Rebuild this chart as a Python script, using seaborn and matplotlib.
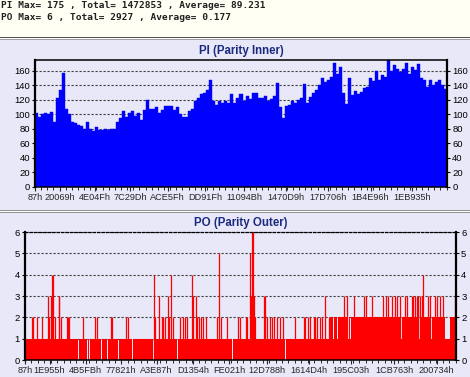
import numpy as np
import matplotlib
matplotlib.use("Agg")
import matplotlib.pyplot as plt
from matplotlib.patches import Rectangle
from matplotlib.ticker import MultipleLocator
import seaborn as sns

# summary numbers shown in the header
pi_max, pi_total, pi_avg = 175, 1472853, 89.231
po_max, po_total, po_avg = 6, 2927, 0.177

# address range of the x axis
addr_start = 0x87
addr_end = 0x218800

# PI envelope, evenly spaced over the address range
pi_values = [102, 96, 100, 102, 101, 103, 90, 122, 133, 157,
             108, 100, 90, 88, 86, 84, 80, 90, 80, 77,
             82, 78, 79, 80, 78, 80, 80, 90, 95, 105,
             97, 102, 105, 98, 102, 93, 106, 120, 107, 108,
             110, 102, 106, 112, 111, 112, 106, 110, 100, 96,
             97, 105, 108, 118, 122, 128, 129, 134, 148, 118,
             113, 118, 116, 119, 116, 128, 116, 123, 128, 119,
             125, 121, 130, 129, 122, 122, 126, 118, 121, 125,
             143, 110, 95, 112, 113, 118, 116, 120, 122, 142,
             116, 124, 130, 134, 140, 150, 145, 148, 152, 171,
             156, 165, 130, 115, 150, 127, 132, 128, 131, 137,
             138, 150, 146, 160, 148, 155, 152, 175, 160, 168,
             162, 159, 162, 171, 156, 165, 161, 170, 150, 148,
             138, 147, 140, 145, 148, 141, 135]

pi_tick_labels = ["87h", "20069h", "4E04Fh", "7C29Dh", "ACE5Fh", "DD91Fh",
                  "11094Bh", "1470D9h", "17D706h", "1B4E96h", "1EB935h"]
po_tick_labels = ["87h", "1E955h", "4B5FBh", "77821h", "A3E87h", "D1354h",
                  "FE021h", "12D788h", "1614D4h", "195C03h", "1CB763h", "200734h"]

# PO base level runs, dips to 1 inside level-2 runs, dips to 0, and spikes
po_run_start = [135, 1555000, 2141300, 2166800]
po_run_level = [1, 2, 1, 2]
po_notch_addr = [1571900, 1592300, 1606100, 1648400, 1660700, 1682600, 1697900,
                 1708100, 1759000, 1784500, 1810100, 1920700, 2011400, 2072600, 2080200]
po_gap_addr = [71600, 272300, 318200, 328400, 382800, 391300, 420200, 476300,
               547800, 654900, 779100, 1057000, 1170300, 1330100, 1462800, 1723000]
po_spike_addr = [37600, 42700, 59700, 85200, 119200, 124300, 131100, 139600, 144700,
                 153200, 171900, 175300, 183800, 212700, 217800, 224600, 297800,
                 357300, 365800, 437200, 445300, 515500, 527400, 658300, 663400,
                 685500, 697400, 705900, 714500, 731500, 736600, 743400, 757000,
                 791000, 804600, 816500, 825000, 853900, 859000, 870900, 876000,
                 887900, 898100, 910000, 921900, 978100, 990000, 1000200, 1029100,
                 1088600, 1097100, 1126000, 1134500, 1148100, 1151500, 1156600,
                 1161700, 1165100, 1173700, 1216200, 1224700, 1233200, 1246800,
                 1258700, 1270600, 1284200, 1297800, 1314800, 1377700, 1420300,
                 1428800, 1440700, 1454300, 1471300, 1479800, 1488300, 1505300,
                 1513800, 1530800, 1547800,
                 1626500, 1641400, 1675400, 1727000, 1738600, 1767600, 1826900,
                 1840600, 1852400, 1872800, 1886500, 1895200, 1912000, 1937500,
                 1946200, 1971700, 1979800, 1988500, 1997100, 2005300, 2014000,
                 2022500, 2030800, 2056300, 2065000, 2090400, 2099200, 2115900,
                 2132800, 2192400]
po_spike_value = [2, 2, 2, 2, 3, 2, 3, 4, 4,
                  2, 3, 3, 2, 2, 2, 2, 2,
                  2, 2, 2, 2, 2, 2, 4, 2,
                  3, 2, 2, 2, 3, 2, 4, 2,
                  2, 2, 2, 2, 4, 3, 3, 2,
                  2, 2, 2, 2, 2, 5, 2, 2,
                  2, 2, 2, 2, 5, 3, 6,
                  6, 3, 2, 3, 3, 2, 2,
                  2, 2, 2, 2, 2, 2, 2,
                  2, 2, 2, 2, 2, 2, 2,
                  2, 3, 2,
                  3, 3, 3, 3, 3, 3, 3,
                  3, 3, 3, 3, 3, 3, 3,
                  3, 3, 3, 3, 3, 3, 3,
                  3, 4, 3, 3, 3, 3, 3,
                  3, 3]

sns.set_style("ticks")
plt.rcParams["font.family"] = ["Liberation Sans", "DejaVu Sans"]

W, H = 470, 377
bg = "#E8E8F8"
navy = "#1A2A80"
fig = plt.figure(figsize=(W / 100, H / 100), dpi=100, facecolor=bg)

# header strip and separators
fig.add_artist(Rectangle((0, 1 - 37 / H), 1, 37 / H, transform=fig.transFigure,
                         facecolor="#FFFFF4", edgecolor="none"))
for y, c in [(37, "#505050"), (38, "#FFFFFF"), (39, "#A0A0A0"),
             (210, "#909090"), (211, "#FFFFFF"), (212, "#909090")]:
    fig.add_artist(Rectangle((0, 1 - (y + 1) / H), 1, 1 / H, transform=fig.transFigure,
                             facecolor=c, edgecolor="none"))

mono = dict(family="DejaVu Sans Mono", fontsize=6.8, fontweight="bold", color="#202020")
fig.text(1 / W, 1 - 6 / H, f"PI Max= {pi_max} , Total= {pi_total} , Average= {pi_avg}",
         va="center", ha="left", **mono)
fig.text(1 / W, 1 - 17 / H, f"PO Max= {po_max} , Total= {po_total} , Average= {po_avg}",
         va="center", ha="left", **mono)

ax1 = fig.add_axes([35 / W, 1 - 187 / H, 412 / W, 127 / H])
ax2 = fig.add_axes([25 / W, 1 - 360 / H, 431 / W, 128 / H])

# PI chart
pi_edges = np.linspace(addr_start, addr_end, len(pi_values) + 1)
pi_mids = (pi_edges[:-1] + pi_edges[1:]) / 2
sns.histplot(x=pi_mids, weights=pi_values, bins=list(pi_edges), ax=ax1, color="#0000FF",
             alpha=1, edgecolor="#0000FF", linewidth=0.3)
ax1.set_ylim(0, 175)
ax1.set_yticks(range(0, 161, 20))

# PO chart
cut_w = 4000
cuts = po_gap_addr + po_notch_addr
edges = sorted(set(po_run_start + [g - cut_w / 2 for g in cuts]
                   + [g + cut_w / 2 for g in cuts] + [addr_end]))
edges = np.array(edges, dtype=float)
mids = (edges[:-1] + edges[1:]) / 2
idx = np.searchsorted(po_run_start, mids, side="right") - 1
levels = np.array(po_run_level)[idx]
in_notch = np.any(np.abs(mids[:, None] - np.array(po_notch_addr)[None, :]) < cut_w / 2, axis=1)
in_gap = np.any(np.abs(mids[:, None] - np.array(po_gap_addr)[None, :]) < cut_w / 2, axis=1)
levels = np.where(in_notch, np.minimum(levels, 1), levels)
levels = np.where(in_gap, 0, levels)
sns.histplot(x=mids, weights=levels, bins=list(edges), ax=ax2, color="#FF0000",
             alpha=1, linewidth=0)
ax2.vlines(po_spike_addr, 0, po_spike_value, colors="#FF0000", linewidth=0.9, zorder=2)
ax2.set_ylim(0, 6)
ax2.set_yticks(range(0, 7))

for ax, labels in [(ax1, pi_tick_labels), (ax2, po_tick_labels)]:
    ax.set_facecolor(bg)
    ax.set_xlim(addr_start, addr_end)
    ax.set_xticks([int(s[:-1], 16) for s in labels])
    ax.set_xticklabels(labels)
    ax.xaxis.set_minor_locator(MultipleLocator(0x8000))
    ax.set_xlabel("")
    ax.set_ylabel("")
    ax.set_axisbelow(True)
    ax.yaxis.grid(True, linestyle=(0, (2, 1.6)), color="#404040", linewidth=0.8)
    ax.tick_params(axis="y", left=True, right=True, labelleft=True, labelright=True,
                   length=2.5, width=0.8, pad=1.2, labelsize=6.8, colors="black")
    ax.tick_params(axis="x", which="major", length=3, width=0.8, pad=1.5, labelsize=6.6)
    ax.tick_params(axis="x", which="minor", length=1.8, width=0.7)
    for s in ax.spines.values():
        s.set_color("black")
        s.set_visible(True)
        s.set_linewidth(1.1)
    ax.spines["left"].set_linewidth(1.6)
    ax.spines["right"].set_linewidth(1.6)

ax2.spines["top"].set_linestyle((0, (2, 1.6)))
ax2.spines["top"].set_linewidth(0.9)

title = dict(ha="center", va="center", fontsize=8.3, fontweight="bold", color=navy)
fig.text(241 / W, 1 - 51 / H, "PI (Parity Inner)", **title)
fig.text(240.5 / W, 1 - 223 / H, "PO (Parity Outer)", **title)

fig.savefig("out.png", dpi=100, facecolor=bg)
